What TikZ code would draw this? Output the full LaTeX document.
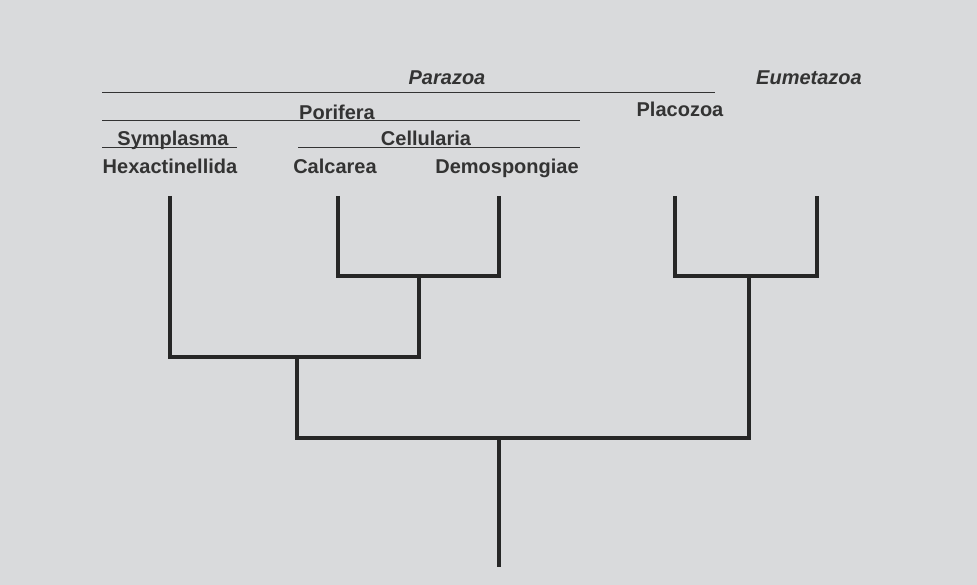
\documentclass[tikz,border=0pt]{standalone}
\usepackage{fontspec}
\setmainfont{Liberation Sans}
\begin{document}
\begin{tikzpicture}[x=1pt,y=-1pt,
  lab/.style={font=\fontsize{20}{20}\selectfont\bfseries,text=black!80,inner sep=0pt,anchor=base},
  br/.style={line width=3.2pt,black!85},
  thin/.style={line width=1pt,black!80}]
\fill[fill={rgb,255:red,217;green,218;blue,220}] (0,0) rectangle (977,585);
\useasboundingbox (0,0) rectangle (977,585);
% labels
\node[lab,font=\fontsize{20}{20}\selectfont\bfseries\itshape] (par) at (447,85) {Parazoa};
\node[lab,font=\fontsize{20}{20}\selectfont\bfseries\itshape] (eum) at (809,85) {Eumetazoa};
\node[lab] (por) at (337,120) {Porifera};
\node[lab] (pla) at (680,117) {Placozoa};
\node[lab] (sym) at (173,146) {Symplasma};
\node[lab] (cel) at (426,146) {Cellularia};
\node[lab] (hex) at (170,174) {Hexactinellida};
\node[lab] (cal) at (335,174) {Calcarea};
\node[lab] (dem) at (507,174) {Demospongiae};
\draw[thin] (102,93) -- (715,93);
\draw[thin] (102,121) -- (580,121);
\draw[thin] (102,148) -- (237,148);
\draw[thin] (298,148) -- (580,148);
% tree
\coordinate (hexb) at (170,196);
\coordinate (calb) at (338,196);
\coordinate (demb) at (499,196);
\coordinate (plab) at (675,196);
\coordinate (eumb) at (817,196);
\coordinate (root) at (499,567);
\draw[br] (calb) |- (419,276) -| (demb);
\draw[br] (hexb) |- (297,357) -| (419,276);
\draw[br] (plab) |- (749,276) -| (eumb);
\draw[br] (297,357) |- (499,438) -| (749,276);
\draw[br] (499,438) -- (root);
\end{tikzpicture}
\end{document}
